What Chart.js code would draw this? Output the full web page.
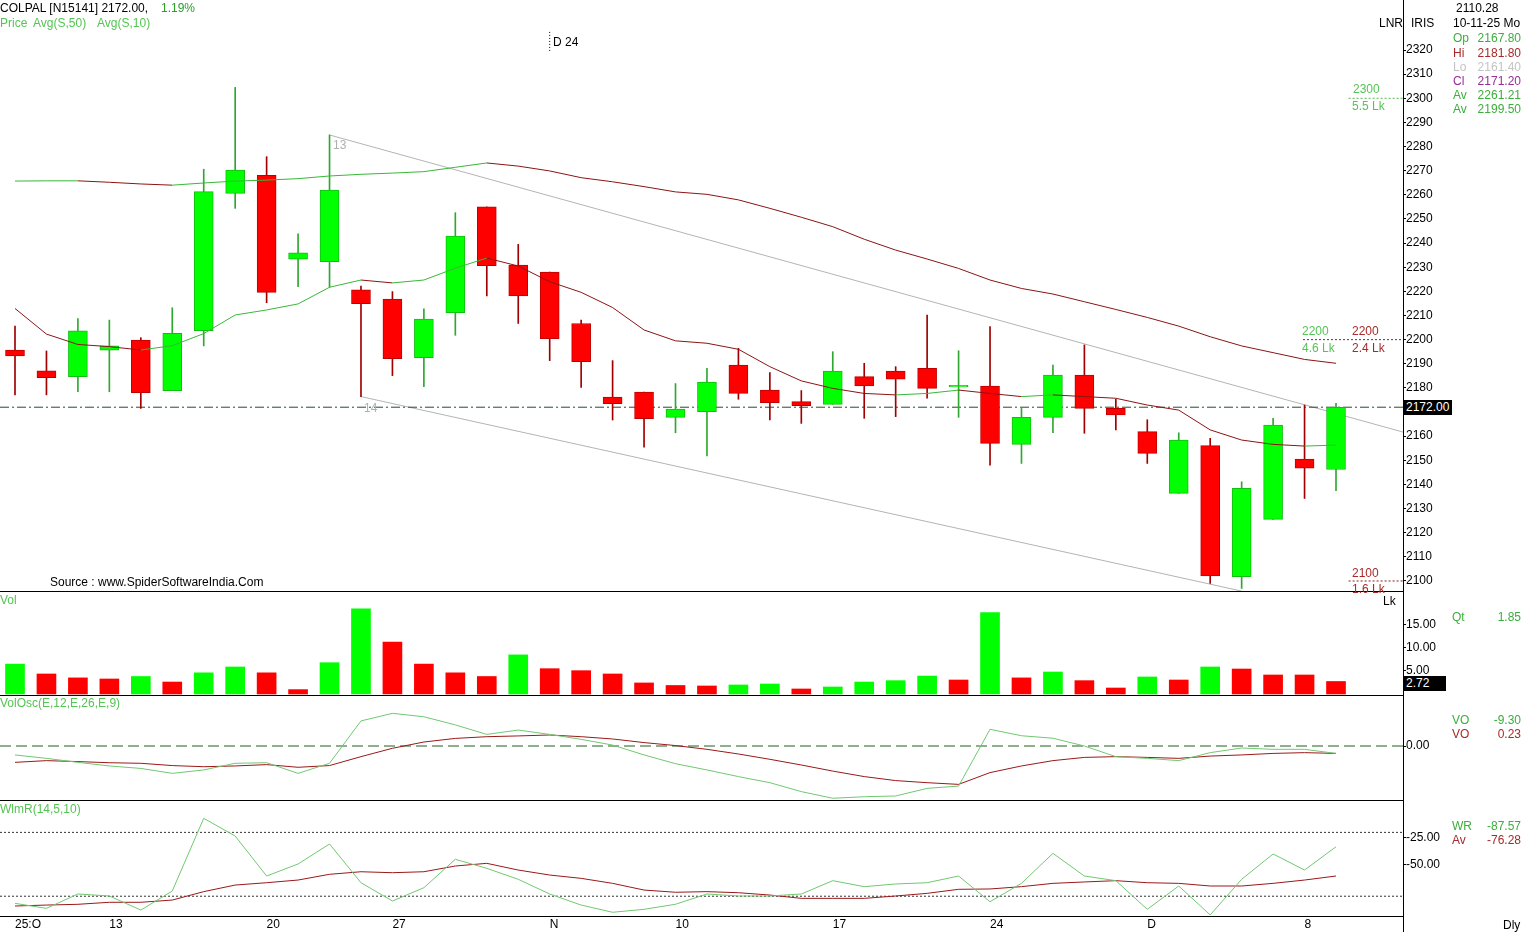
<!DOCTYPE html>
<html>
<head>
<meta charset="utf-8">
<script src="https://cdn.jsdelivr.net/npm/chart.js@4.4.0/dist/chart.umd.min.js"></script>
<style>
  body { margin: 0; background: #fff; width: 1522px; height: 932px; overflow: hidden; position: relative;
         font-family: "Liberation Sans", Arial, sans-serif; font-size: 12px; }
  canvas { position: absolute; left: 0; }
  .t { position: absolute; white-space: nowrap; line-height: 14px; font-size: 12px; z-index: 2; }
  .box { position: absolute; background: #000; color: #fff; font-size: 12px; line-height: 15px; padding-left: 2px; z-index: 3; }
</style>
</head>
<body>
<canvas id="cPrice" width="1522" height="592" style="top:0px"></canvas>
<canvas id="cVol" width="1522" height="104" style="top:592px"></canvas>
<canvas id="cOsc" width="1522" height="105" style="top:696px"></canvas>
<canvas id="cWr" width="1522" height="131" style="top:801px"></canvas>
<div style="position:absolute;left:1403px;top:916px;width:1px;height:16px;background:#000"></div>

<script>
// trading days 8 Oct .. 9 Dec 2025
const dates = ['08','09','10','13','14','15','16','17','20','21','23','24','27','28','29','30','31',
  '03','04','06','07','10','11','12','13','14','17','18','19','20','21','24','25','26','27','28',
  '01','02','03','04','05','08','09'];
const xTickIdx = [0, 3, 8, 12, 17, 21, 26, 31, 36, 41];
const xTickText = ['25:O', '13', '20', '27', 'N', '10', '17', '24', 'D', '8'];

const open = [2195.7, 2187.1, 2184.7, 2195.6, 2199.8, 2178.9, 2203.7, 2260.6, 2268.1, 2233.3, 2232.3,
  2220.6, 2216.8, 2192.5, 2211.2, 2255.0, 2230.9, 2228.0, 2206.7, 2176.2, 2178.3, 2167.8,
  2170.2, 2189.5, 2179.1, 2174.3, 2173.2, 2184.7, 2187.0, 2188.1, 2180.4, 2180.8, 2156.6,
  2167.8, 2185.3, 2171.5, 2161.9, 2136.3, 2156.1, 2101.8, 2125.5, 2150.5, 2146.2];
const high = [2205.6, 2195.3, 2208.7, 2208.1, 2200.8, 2213.2, 2270.6, 2304.5, 2275.8, 2243.8, 2284.8,
  2222.2, 2219.9, 2212.8, 2252.6, 2255.0, 2239.5, 2228.0, 2208.1, 2191.3, 2178.3, 2181.8,
  2188.1, 2196.4, 2186.3, 2178.9, 2195.0, 2190.2, 2188.8, 2210.2, 2195.4, 2205.4, 2171.5,
  2189.5, 2197.8, 2175.3, 2166.8, 2161.4, 2159.1, 2141.1, 2167.4, 2172.9, 2173.6];
const low = [2177.1, 2177.1, 2178.4, 2178.4, 2171.5, 2178.9, 2197.4, 2254.4, 2215.3, 2221.9, 2221.7,
  2176.4, 2185.1, 2180.5, 2201.8, 2218.1, 2206.7, 2191.3, 2180.2, 2166.7, 2155.4, 2161.4,
  2151.8, 2175.3, 2166.7, 2165.3, 2173.2, 2167.4, 2168.1, 2175.7, 2167.8, 2148.0, 2148.7,
  2161.5, 2161.2, 2162.6, 2148.7, 2136.3, 2099.0, 2096.9, 2125.5, 2134.2, 2137.4];
const close = [2193.2, 2184.2, 2203.6, 2197.4, 2178.0, 2202.6, 2261.3, 2270.3, 2219.6, 2236.0, 2262.0,
  2214.9, 2192.1, 2208.5, 2242.9, 2230.6, 2218.1, 2200.4, 2190.9, 2173.5, 2167.2, 2171.2,
  2182.4, 2177.7, 2173.9, 2172.6, 2187.0, 2180.8, 2183.6, 2179.8, 2181.1, 2157.0, 2167.8,
  2185.3, 2171.5, 2168.8, 2152.9, 2158.4, 2102.1, 2138.4, 2164.6, 2146.7, 2172.0];

const ma50 = [2265.7, 2265.8, 2265.8, 2265.2, 2264.5, 2264.0, 2264.9, 2265.7, 2266.1, 2266.7, 2267.8,
  2268.5, 2269.0, 2269.6, 2271.4, 2273.2, 2271.9, 2269.9, 2267.1, 2265.4, 2263.4, 2261.21,
  2260.2, 2257.9, 2254.4, 2250.7, 2246.8, 2241.6, 2237.1, 2233.4, 2229.5, 2224.7, 2221.2,
  2218.9, 2215.7, 2212.5, 2209.2, 2205.6, 2201.2, 2197.4, 2194.6, 2191.8, 2190.2];
const ma10 = [2212.9, 2202.3, 2198.0, 2197.1, 2195.7, 2197.5, 2202.5, 2210.2, 2212.3, 2214.8, 2221.7,
  2224.7, 2223.5, 2224.7, 2229.6, 2233.8, 2230.5, 2224.0, 2219.6, 2213.3, 2204.0, 2199.5,
  2198.5, 2196.0, 2188.8, 2182.9, 2179.8, 2177.7, 2177.1, 2177.7, 2179.1, 2177.7, 2176.4,
  2177.1, 2176.4, 2175.7, 2172.9, 2170.8, 2162.6, 2158.4, 2156.6, 2155.9, 2156.3];

// volume in lakh, 1 = green bar
const volume = [6.5, 4.35, 3.5, 3.26, 3.8, 2.6, 4.6, 5.87, 4.6, 0.95, 6.8,
  18.5, 11.3, 6.5, 4.6, 3.8, 8.5, 5.5, 5.07, 4.35, 2.4, 1.85,
  1.74, 1.96, 2.17, 1.09, 1.52, 2.6, 2.9, 3.9, 3.04, 17.7, 3.5,
  4.78, 2.9, 1.3, 3.7, 3.04, 5.87, 5.43, 4.13, 4.13, 2.72];
const volUp = [1, 0, 0, 0, 1, 0, 1, 1, 0, 0, 1,
  1, 0, 0, 0, 0, 1, 0, 0, 0, 0, 0,
  0, 1, 1, 0, 1, 1, 1, 1, 0, 1, 0,
  1, 0, 0, 1, 0, 1, 0, 0, 0, 0];

const volOsc = [-4.7, -6.5, -8.6, -10.5, -11.8, -14.4, -12.6, -9.1, -8.8, -14.4, -9.1,
  13.2, 17.2, 15.4, 11.1, 6.1, 8.4, 6.1, 3.5, 0.5, -4.7, -9.30,
  -12.6, -16.1, -19.3, -24.0, -27.5, -26.7, -26.3, -22.3, -21.1, 8.8, 5.4,
  4.1, 0, -5.6, -6.5, -7.7, -3.5, -1.05, -1.75, -1.75, -3.9];
const volOscSig = [-8.6, -7.7, -8.2, -8.8, -9.1, -10.3, -10.9, -10.5, -9.8, -11.2, -10.3,
  -5.6, -1.2, 2.1, 4.0, 4.9, 5.3, 5.8, 4.9, 3.7, 1.8, 0.23,
  -1.75, -4.2, -7.0, -10.0, -13.2, -16.1, -18.2, -19.3, -20.2, -14.0, -10.5,
  -7.7, -6.0, -5.6, -6.0, -6.5, -5.3, -4.7, -3.9, -3.5, -3.9];

const willR = [-86.7, -91.4, -77.9, -79.8, -93.0, -75.1, -6.8, -23.4, -61.0, -49.7, -30.9,
  -67.3, -84.5, -72.0, -45.3, -53.8, -64.1, -77.9, -88.3, -95.1, -92.3, -87.57,
  -77.9, -79.8, -79.8, -77.9, -65.4, -71.0, -68.5, -67.3, -61.0, -85.2, -67.9,
  -39.7, -61.0, -65.4, -92.3, -70.4, -97.6, -64.1, -40.3, -55.4, -33.5];
const willRAvg = [-89.2, -88.3, -87.6, -85.7, -85.7, -83.6, -75.7, -69.5, -67.3, -64.8, -59.4,
  -57.0, -57.9, -57.0, -51.6, -49.1, -55.4, -60.1, -63.2, -67.9, -74.2, -76.28,
  -75.7, -76.7, -78.9, -82.0, -82.0, -82.0, -79.8, -77.3, -73.5, -73.2, -71.0,
  -67.9, -66.6, -65.4, -67.3, -67.9, -70.4, -70.4, -67.9, -64.8, -61.0];

const priceTicks = [2100, 2110, 2120, 2130, 2140, 2150, 2160, 2170, 2180, 2190, 2200, 2210,
  2220, 2230, 2240, 2250, 2260, 2270, 2280, 2290, 2300, 2310, 2320];
const volTicks = [5, 10, 15];
const oscTicks = [0];
const wrTicks = [-25, -50];
const wrBands = [-20, -80];

// channel drawn from the high of 23 Oct and the low of 24 Oct
const trendUpper = [[10, 2284.8], [44.13, 2161.7]];
const trendLower = [[11, 2176.4], [39, 2095.8]];
// volume-at-price markers on the right
const vpLevels = [2300, 2200, 2100];
const vpFrom = [42.4, 40.95, 42.4];
const eventIdx = 17;          // "D 24"
const cursorIdx = 21;         // 10-11-25
const lastIdx = close.length - 1;

const X_MIN = -0.477, X_MAX = 44.13;
const UP_BODY = '#00ff00', UP_EDGE = '#10c010', UP_WICK = '#30a830';
const DN_BODY = '#ff0000', DN_EDGE = '#c00000', DN_WICK = '#a00000';
const MA_G = '#38b838', MA_R = '#8a1414';
const OSC_G = '#70c870', OSC_R = '#9a1818';

Chart.defaults.font.family = '"Liberation Sans", Arial, sans-serif';
Chart.defaults.font.size = 12;
Chart.defaults.color = '#000';

const up = close.map((c, i) => c >= open[i]);
const pts = arr => arr.map((v, i) => ({ x: i, y: v }));
const span = (y, from) => [{ x: from === undefined ? X_MIN : from, y }, { x: X_MAX, y }];
const rising = (g, r) => ({ borderColor: c => (c.p1.parsed.y >= c.p0.parsed.y ? g : r) });

function line(data, color, extra) {
  return Object.assign({ type: 'line', data, borderColor: color, borderWidth: 1, pointRadius: 0,
    pointHitRadius: 0, tension: 0, fill: false, order: 0 }, extra || {});
}

function xAxis(showLabels) {
  return {
    type: 'linear', min: X_MIN, max: X_MAX, offset: false,
    grid: { display: false, drawTicks: false, offset: false },
    border: { display: true, color: '#000', width: 1 },
    ticks: {
      display: showLabels, autoSkip: false, maxRotation: 0, align: 'start', padding: 1,
      callback: v => xTickText[xTickIdx.indexOf(v)]
    },
    afterBuildTicks: s => { s.ticks = xTickIdx.map(v => ({ value: v })); },
    afterFit: s => {
      s.height = showLabels ? 16 : 0;
      s.paddingLeft = 0; s.paddingRight = 0;
    }
  };
}

function yAxis(min, max, ticks, fmt) {
  return {
    position: 'right', min, max, beginAtZero: false,
    grid: { drawOnChartArea: false, drawTicks: true, tickLength: 3, color: '#000' },
    border: { display: true, color: '#000', width: 1 },
    ticks: { padding: 0, autoSkip: false, color: '#000', callback: v => fmt(v) },
    afterBuildTicks: s => { s.ticks = ticks.map(v => ({ value: v })); },
    afterFit: s => {
      s.width = 119;
      s.paddingTop = 0; s.paddingBottom = 0;
    }
  };
}

function panel(id, datasets, y, showX, padBottom) {
  return new Chart(document.getElementById(id), {
    type: 'bar',
    data: { datasets },
    options: {
      responsive: false, animation: false, devicePixelRatio: 1,
      layout: { padding: { left: 0, right: 0, top: 0, bottom: padBottom } },
      plugins: { legend: { display: false }, tooltip: { enabled: false } },
      scales: { x: xAxis(showX), y }
    }
  });
}

// price panel
const priceSets = [
  line(pts(ma50), MA_G, { segment: rising(MA_G, MA_R), order: 0 }),
  line(pts(ma10), MA_G, { segment: rising(MA_G, MA_R), order: 0 }),
  {
    type: 'bar', order: 1, grouped: false, maxBarThickness: 19, barPercentage: 1, categoryPercentage: 1,
    data: open.map((o, i) => ({ x: i, y: [o, close[i]] })),
    backgroundColor: up.map(u => (u ? UP_BODY : DN_BODY)),
    borderColor: up.map(u => (u ? UP_EDGE : DN_EDGE)),
    borderWidth: 1, borderSkipped: false
  },
  {
    type: 'bar', order: 2, grouped: false, maxBarThickness: 1, barPercentage: 1, categoryPercentage: 1,
    data: low.map((l, i) => ({ x: i, y: [l, high[i]] })),
    backgroundColor: up.map(u => (u ? UP_WICK : DN_WICK)),
    borderWidth: 0
  },
  line(span(close[lastIdx]), '#2a4a2a', { borderDash: [9, 3, 2, 3], order: 3 }),
  line(trendUpper.map(p => ({ x: p[0], y: p[1] })), '#b4b4b4', { order: 4 }),
  line(trendLower.map(p => ({ x: p[0], y: p[1] })), '#b4b4b4', { order: 4 }),
  line(span(vpLevels[0], vpFrom[0]), '#4cbc4c', { borderDash: [2, 2], order: 4 }),
  line(span(vpLevels[1], vpFrom[1]), '#6a3030', { borderDash: [2, 2], order: 4 }),
  line(span(vpLevels[2], vpFrom[2]), '#8a2020', { borderDash: [2, 2], order: 4 }),
  line([{ x: eventIdx, y: 2327.5 }, { x: eventIdx, y: 2319.6 }], '#000', { borderDash: [1, 2], order: 4 })
];
panel('cPrice', priceSets, yAxis(2095.85, 2340.72, priceTicks, v => String(v)), false, 1);

// volume panel
panel('cVol', [{
  type: 'bar', grouped: false, maxBarThickness: 19, barPercentage: 1, categoryPercentage: 1,
  data: pts(volume),
  backgroundColor: volUp.map(u => (u ? UP_BODY : DN_BODY)),
  borderWidth: 0
}], yAxis(-0.22, 22.17, volTicks, v => v.toFixed(2)), false, 1);

// volume oscillator panel
panel('cOsc', [
  line(pts(volOsc), OSC_G, { order: 0 }),
  line(pts(volOscSig), OSC_R, { order: 1 }),
  line(span(0), '#1e5e1e', { borderDash: [11, 5], order: 2 })
], yAxis(-28.42, 26.32, oscTicks, v => v.toFixed(2)), false, 1);

// williams %R panel
panel('cWr', [
  line(pts(willR), OSC_G, { order: 0 }),
  line(pts(willRAvg), OSC_R, { order: 1 }),
  line(span(wrBands[0]), '#333', { borderDash: [2, 2], order: 2 }),
  line(span(wrBands[1]), '#333', { borderDash: [2, 2], order: 2 })
], yAxis(-98.59, 9.49, wrTicks, v => v.toFixed(2)), true, 0);

// text
const LG = '#55c455', GT = '#3cae3c', RT = '#a82a2a';
const f2 = v => v.toFixed(2);
const texts = [
  ['COLPAL [N15141] ' + f2(close[lastIdx]) + ',', 0, 8, '#000'],
  ['1.19%', 161, 8, '#2aa02a'],
  ['Price', 0, 23, LG], ['Avg(S,50)', 33, 23, LG], ['Avg(S,10)', 97, 23, LG],
  ['D 24', 553, 42, '#000'],
  ['13', 333, 145, '#b0b0b0'], ['14', 364, 408, '#b0b0b0'],
  ['Source : www.SpiderSoftwareIndia.Com', 50, 582, '#000'],
  ['2300', 1353, 89, LG], ['5.5 Lk', 1352, 106, LG],
  ['2200', 1302, 331, LG], ['4.6 Lk', 1302, 348, LG],
  ['2200', 1352, 331, RT], ['2.4 Lk', 1352, 348, RT],
  ['2100', 1352, 573, RT], ['1.6 Lk', 1352, 589, RT],
  ['Lk', 1383, 601, '#000'],
  ['LNR', 1379, 23, '#000'], ['IRIS', 1411, 23, '#000'],
  ['2110.28', 1456, 8, '#000'], ['10-11-25 Mo', 1453, 23, '#000'],
  ['Op', 1453, 38, GT], [f2(open[cursorIdx]), 1521, 38, GT, 'r'],
  ['Hi', 1453, 53, RT], [f2(high[cursorIdx]), 1521, 53, RT, 'r'],
  ['Lo', 1453, 67, '#c4c4c4'], [f2(low[cursorIdx]), 1521, 67, '#c4c4c4', 'r'],
  ['Cl', 1453, 81, '#9a2a9a'], [f2(close[cursorIdx]), 1521, 81, '#9a2a9a', 'r'],
  ['Av', 1453, 95, GT], [f2(ma50[cursorIdx]), 1521, 95, GT, 'r'],
  ['Av', 1453, 109, GT], [f2(ma10[cursorIdx]), 1521, 109, GT, 'r'],
  ['Vol', 0, 600, LG],
  ['Qt', 1452, 617, GT], [f2(volume[cursorIdx]), 1521, 617, GT, 'r'],
  ['VolOsc(E,12,E,26,E,9)', 0, 703, LG],
  ['VO', 1452, 720, GT], [f2(volOsc[cursorIdx]), 1521, 720, GT, 'r'],
  ['VO', 1452, 734, RT], [f2(volOscSig[cursorIdx]), 1521, 734, RT, 'r'],
  ['WlmR(14,5,10)', 0, 809, LG],
  ['WR', 1452, 826, GT], [f2(willR[cursorIdx]), 1521, 826, GT, 'r'],
  ['Av', 1452, 840, RT], [f2(willRAvg[cursorIdx]), 1521, 840, RT, 'r'],
  ['Dly', 1503, 925, '#000']
];
for (const [t, x, y, c, a] of texts) {
  const d = document.createElement('div');
  d.className = 't';
  d.textContent = t;
  d.style.color = c;
  d.style.top = (y - 7) + 'px';
  if (a === 'r') d.style.right = (1522 - x) + 'px'; else d.style.left = x + 'px';
  document.body.appendChild(d);
}
const boxes = [[f2(close[lastIdx]), 1404, 400, 46], [f2(volume[lastIdx]), 1404, 676, 40]];
for (const [t, x, y, w] of boxes) {
  const d = document.createElement('div');
  d.className = 'box';
  d.textContent = t;
  d.style.left = x + 'px';
  d.style.top = y + 'px';
  d.style.width = w + 'px';
  document.body.appendChild(d);
}
</script>
</body>
</html>
